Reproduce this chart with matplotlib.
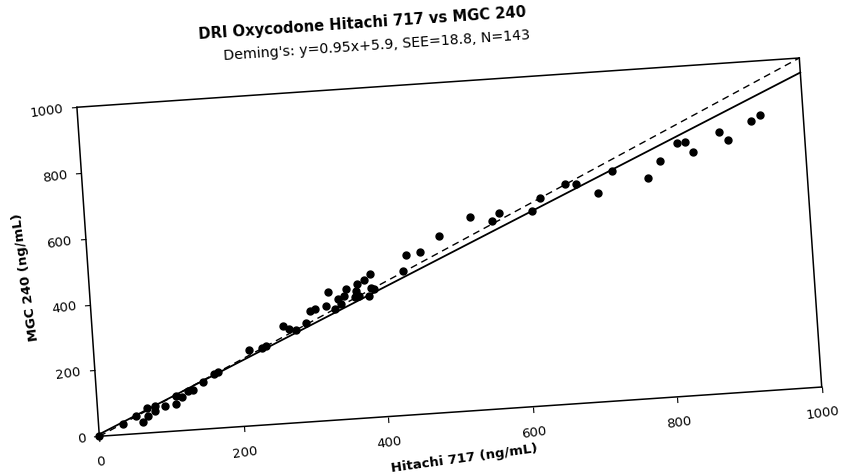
import numpy as np
import matplotlib
matplotlib.use('Agg')
import matplotlib.pyplot as plt
from matplotlib.transforms import Affine2D
import mpl_toolkits.axisartist.floating_axes as floating_axes
from mpl_toolkits.axisartist.grid_finder import FixedLocator, DictFormatter

# method comparison (ng/mL)
hitachi = [0, 34, 53, 61, 69, 68, 79, 79, 93, 108,
           110, 118, 127, 134, 148, 164, 170, 214, 233, 238,
           264, 272, 281, 296, 302, 309, 325, 329, 337, 342,
           346, 350, 354, 365, 368, 370, 371, 379, 388, 385,
           388, 392, 434, 439, 459, 487, 531, 561, 572, 617,
           630, 666, 680, 710, 732, 780, 798, 823, 835, 844,
           882, 894, 928, 940]
mgc = [0, 32, 53, 33, 51, 75, 66, 79, 77, 82,
       107, 101, 120, 121, 142, 165, 169, 230, 233, 240,
       297, 285, 281, 300, 337, 341, 347, 388, 337, 366,
       350, 373, 395, 368, 387, 408, 372, 418, 435, 370,
       392, 390, 438, 485, 492, 535, 588, 570, 593, 592,
       629, 668, 666, 633, 698, 668, 718, 767, 769, 737,
       792, 766, 819, 836]

slope = 0.95
intercept = 5.9
xticks = [0, 200, 400, 600, 800, 1000]
yticks = [0, 200, 400, 600, 800, 1000]

title = 'DRI Oxycodone Hitachi 717 vs MGC 240'
subtitle = "Deming's: y=0.95x+5.9, SEE=18.8, N=143"

# the page was scanned a little crooked -> rotated plot box
tilt = 3.9
sx = 0.7241   # px per unit along x
sy = 0.3298   # px per unit along y
tr = Affine2D().scale(sx, sy).rotate_deg(tilt)

gh = floating_axes.GridHelperCurveLinear(
    tr, extremes=(0, 1000, 0, 1000),
    grid_locator1=FixedLocator(xticks),
    grid_locator2=FixedLocator(yticks),
    tick_formatter1=DictFormatter({v: str(v) for v in xticks}),
    tick_formatter2=DictFormatter({v: str(v) for v in yticks}))

fig = plt.figure(figsize=(8.43, 4.77), dpi=100)
ax = fig.add_axes([0.0824, 0.0753, 0.9012, 0.8090],
                  axes_class=floating_axes.FloatingAxes, grid_helper=gh)

for side in ['left', 'bottom', 'right', 'top']:
    ax.axis[side].line.set_linewidth(1.1)
for side in ['right', 'top']:
    ax.axis[side].toggle(ticks=False)

ax.axis['bottom'].label.set_text('Hitachi 717 (ng/mL)')
ax.axis['left'].label.set_text('MGC 240 (ng/mL)')

for side in ['left', 'bottom']:
    a = ax.axis[side]
    a.major_ticks.set_ticksize(4)
    a.major_ticks.set_tick_out(True)
    a.major_ticklabels.set_fontsize(9.5)
    a.major_ticklabels.set_rotation(a.major_ticklabels.get_rotation() + tilt)
    a.label.set_fontsize(9.5)
    a.label.set_fontweight('bold')
    a.label.set_visible(True)
    a.label.set_rotation(a.label.get_rotation() + tilt)

ax.axis['bottom'].major_ticklabels.set_pad(10)
ax.axis['left'].major_ticklabels.set_pad(6)
ax.axis['bottom'].label.set_pad(8)
ax.axis['left'].label.set_pad(6)

aux = ax.get_aux_axes(tr)

xs = np.array([0, 1000])
aux.plot(xs, xs, color='black', lw=1.0, dashes=(5, 3.5))
aux.plot(xs, slope * xs + intercept, color='black', lw=1.3)
aux.plot(hitachi, mgc, 'o', color='black', markersize=5, mec='black')

fig.text(0.4294, 0.950, title, rotation=tilt, ha='center', va='center',
         fontsize=10.6, fontweight='bold', rotation_mode='anchor')
fig.text(0.4472, 0.905, subtitle, rotation=tilt, ha='center', va='center',
         fontsize=10.2, rotation_mode='anchor')

plt.savefig('out.png', dpi=100)
